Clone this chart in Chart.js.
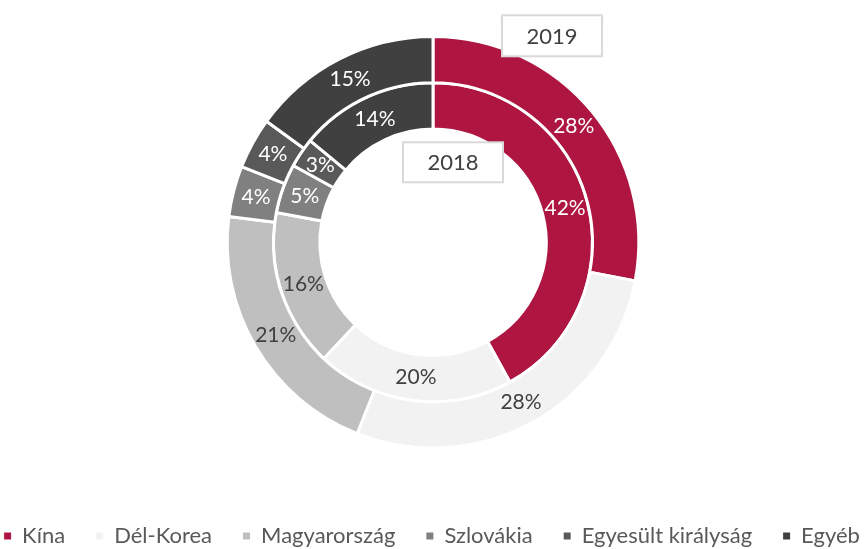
<!DOCTYPE html>
<html>
<head>
<meta charset="utf-8">
<script src="https://cdn.jsdelivr.net/npm/chart.js@4.4.0/dist/chart.umd.min.js"></script>
<style>
  html, body { margin: 0; padding: 0; background: #ffffff; overflow: hidden; }
  #wrap { width: 866px; height: 549px; position: relative; }
</style>
</head>
<body>
<div id="wrap"><canvas id="c" width="866" height="549"></canvas></div>
<script>
const categories = ['Kína', 'Dél-Korea', 'Magyarország', 'Szlovákia', 'Egyesült királyság', 'Egyéb'];
const values2019 = [28, 28, 21, 4, 4, 15];
const values2018 = [42, 20, 16, 5, 3, 14];
const yearLabels = ['2019', '2018'];
const colors = ['#AE1540', '#F2F2F2', '#BFBFBF', '#808080', '#595959', '#404040'];
const labelColors = ['#FFFFFF', '#404040', '#404040', '#FFFFFF', '#FFFFFF', '#FFFFFF'];

const pctLabels = {
  id: 'pctLabels',
  afterDatasetsDraw(chart) {
    const ctx = chart.ctx;
    ctx.save();
    ctx.font = '21px Lato';
    ctx.textAlign = 'center';
    ctx.textBaseline = 'middle';
    chart.data.datasets.forEach((ds, di) => {
      const meta = chart.getDatasetMeta(di);
      meta.data.forEach((arc, i) => {
        const p = arc.tooltipPosition();
        ctx.fillStyle = labelColors[i];
        ctx.fillText(ds.data[i] + '%', p.x, p.y);
      });
    });
    // year boxes
    const arc0 = chart.getDatasetMeta(0).data[0];
    const cx = arc0.x, cy = arc0.y;
    const boxes = [
      { text: yearLabels[0], x: cx + 69, y: cy - 227, w: 100, h: 41 },
      { text: yearLabels[1], x: cx - 30, y: cy - 100, w: 100, h: 40 }
    ];
    ctx.font = '22px Lato';
    boxes.forEach(b => {
      ctx.fillStyle = '#FFFFFF';
      ctx.fillRect(b.x, b.y, b.w, b.h);
      ctx.strokeStyle = '#D9D9D9';
      ctx.lineWidth = 2;
      ctx.strokeRect(b.x, b.y, b.w, b.h);
      ctx.fillStyle = '#404040';
      ctx.fillText(b.text, b.x + b.w / 2, b.y + b.h / 2 + 1);
    });
    ctx.restore();
  }
};

new Chart(document.getElementById('c'), {
  type: 'doughnut',
  data: {
    labels: categories,
    datasets: [
      { label: yearLabels[0], data: values2019, backgroundColor: colors, borderColor: '#FFFFFF', borderWidth: 3, hoverBorderWidth: 3, hoverOffset: 0 },
      { label: yearLabels[1], data: values2018, backgroundColor: colors, borderColor: '#FFFFFF', borderWidth: 3, hoverBorderWidth: 3, hoverOffset: 0 }
    ]
  },
  options: {
    responsive: false,
    animation: false,
    devicePixelRatio: 1,
    events: [],
    cutout: '55%',
    layout: { padding: { top: 35, bottom: -8, left: -51, right: -49 } },
    plugins: {
      tooltip: { enabled: false },
      legend: {
        position: 'bottom',
        title: { display: true, text: ' ', font: { size: 12 }, padding: { top: 30, bottom: 0 } },
        labels: {
          boxWidth: 7,
          boxHeight: 7,
          padding: 31,
          color: '#595959',
          font: { family: 'Lato', size: 22 },
          generateLabels(chart) {
            const items = Chart.overrides.doughnut.plugins.legend.labels.generateLabels(chart);
            return items.map(it => Object.assign(it, { lineWidth: 0, strokeStyle: 'rgba(0,0,0,0)' }));
          }
        }
      }
    }
  },
  plugins: [pctLabels]
});
</script>
</body>
</html>
